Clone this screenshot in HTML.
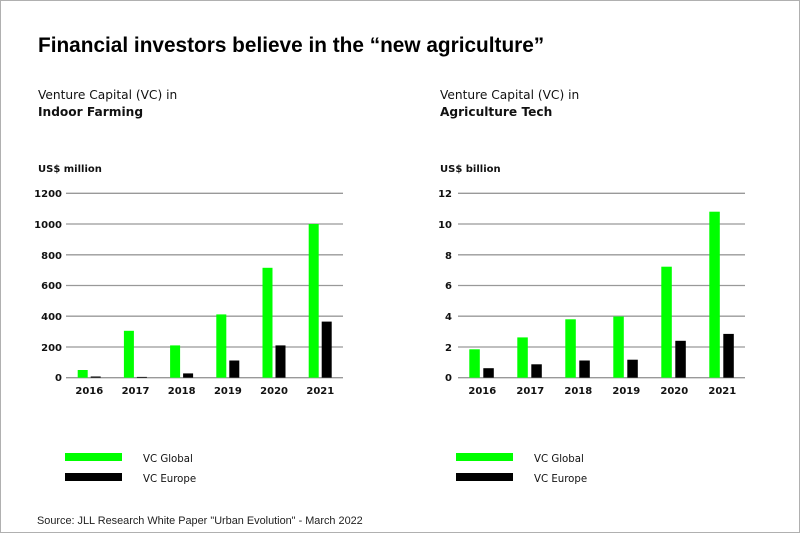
<!DOCTYPE html>
<html><head><meta charset="utf-8"><style>
html,body{margin:0;padding:0;background:#fff;}
svg{display:block;}
</style></head><body>
<svg width="800" height="533" xmlns="http://www.w3.org/2000/svg" font-family="'Liberation Sans', 'DejaVu Sans', sans-serif">
<rect x="0.5" y="0.5" width="799" height="532" fill="#fff" stroke="#b0b0b0"/>
<text x="38" y="52" font-size="20.8" font-weight="bold" fill="#000">Financial investors believe in the “new agriculture”</text>
<g font-family="'DejaVu Sans', sans-serif" font-size="12.2" fill="#111">
<text x="38" y="99">Venture Capital (VC) in</text>
<text x="38" y="116" font-weight="bold">Indoor Farming</text>
<text x="440" y="99">Venture Capital (VC) in</text>
<text x="440" y="116" font-weight="bold">Agriculture Tech</text>
</g>
<g font-family="'DejaVu Sans', sans-serif" font-size="10" font-weight="bold" fill="#111">
<text x="38" y="172">US$ million</text>
<text x="440" y="172">US$ billion</text>
</g>
<g stroke="#999" stroke-width="1.3">
<line x1="66" x2="343" y1="193.3" y2="193.3"/>
<line x1="66" x2="343" y1="224" y2="224"/>
<line x1="66" x2="343" y1="254.8" y2="254.8"/>
<line x1="66" x2="343" y1="285.5" y2="285.5"/>
<line x1="66" x2="343" y1="316.2" y2="316.2"/>
<line x1="66" x2="343" y1="347" y2="347"/>
<line x1="66" x2="343" y1="377.7" y2="377.7"/>
<line x1="458" x2="745" y1="193.3" y2="193.3"/>
<line x1="458" x2="745" y1="224" y2="224"/>
<line x1="458" x2="745" y1="254.8" y2="254.8"/>
<line x1="458" x2="745" y1="285.5" y2="285.5"/>
<line x1="458" x2="745" y1="316.2" y2="316.2"/>
<line x1="458" x2="745" y1="347" y2="347"/>
<line x1="458" x2="745" y1="377.7" y2="377.7"/>
</g>
<g font-family="'DejaVu Sans', sans-serif" font-size="10" font-weight="bold" fill="#111" text-anchor="end">
<text x="62" y="197">1200</text><text x="62" y="228">1000</text><text x="62" y="259">800</text>
<text x="62" y="289">600</text><text x="62" y="320">400</text><text x="62" y="351">200</text><text x="62" y="381">0</text>
<text x="452" y="197">12</text><text x="452" y="228">10</text><text x="452" y="259">8</text>
<text x="452" y="289">6</text><text x="452" y="320">4</text><text x="452" y="351">2</text><text x="452" y="381">0</text>
</g>
<g fill="#00ff00">
<rect x="77.7" y="370" width="10" height="7.7"/>
<rect x="123.9" y="330.8" width="10" height="46.9"/>
<rect x="170.1" y="345.4" width="10" height="32.3"/>
<rect x="216.3" y="314.4" width="10" height="63.3"/>
<rect x="262.5" y="267.8" width="10" height="109.9"/>
<rect x="308.7" y="224" width="10" height="153.7"/>
<rect x="469.3" y="349.3" width="10.5" height="28.4"/>
<rect x="517.3" y="337.4" width="10.5" height="40.3"/>
<rect x="565.3" y="319.3" width="10.5" height="58.4"/>
<rect x="613.3" y="316.5" width="10.5" height="61.2"/>
<rect x="661.3" y="266.7" width="10.5" height="111"/>
<rect x="709.3" y="211.7" width="10.5" height="166"/>
</g>
<g fill="#000">
<rect x="90.7" y="376.5" width="10" height="1.2"/>
<rect x="136.9" y="376.9" width="10" height="0.8"/>
<rect x="183.1" y="373.4" width="10" height="4.3"/>
<rect x="229.3" y="360.5" width="10" height="17.2"/>
<rect x="275.5" y="345.4" width="10" height="32.3"/>
<rect x="321.7" y="321.6" width="10" height="56.1"/>
<rect x="483.3" y="368.2" width="10.5" height="9.5"/>
<rect x="531.3" y="364.3" width="10.5" height="13.4"/>
<rect x="579.3" y="360.5" width="10.5" height="17.2"/>
<rect x="627.3" y="359.7" width="10.5" height="18"/>
<rect x="675.3" y="340.8" width="10.5" height="36.9"/>
<rect x="723.3" y="333.9" width="10.5" height="43.8"/>
</g>
<g font-family="'DejaVu Sans', sans-serif" font-size="10" font-weight="bold" fill="#111" text-anchor="middle">
<text x="89.3" y="394">2016</text><text x="135.5" y="394">2017</text><text x="181.7" y="394">2018</text>
<text x="227.9" y="394">2019</text><text x="274.1" y="394">2020</text><text x="320.3" y="394">2021</text>
<text x="482.3" y="394">2016</text><text x="530.3" y="394">2017</text><text x="578.3" y="394">2018</text>
<text x="626.3" y="394">2019</text><text x="674.3" y="394">2020</text><text x="722.3" y="394">2021</text>
</g>
<rect x="65" y="453" width="57" height="8" fill="#00ff00"/>
<rect x="65" y="473" width="57" height="8" fill="#000"/>
<rect x="456" y="453" width="57" height="8" fill="#00ff00"/>
<rect x="456" y="473" width="57" height="8" fill="#000"/>
<g font-family="'DejaVu Sans', sans-serif" font-size="10.2" fill="#111">
<text x="143" y="462">VC Global</text><text x="143" y="482">VC Europe</text>
<text x="534" y="462">VC Global</text><text x="534" y="482">VC Europe</text>
</g>
<text x="37" y="524" font-size="10.9" fill="#222">Source: JLL Research White Paper "Urban Evolution" - March 2022</text>
</svg>
</body></html>
